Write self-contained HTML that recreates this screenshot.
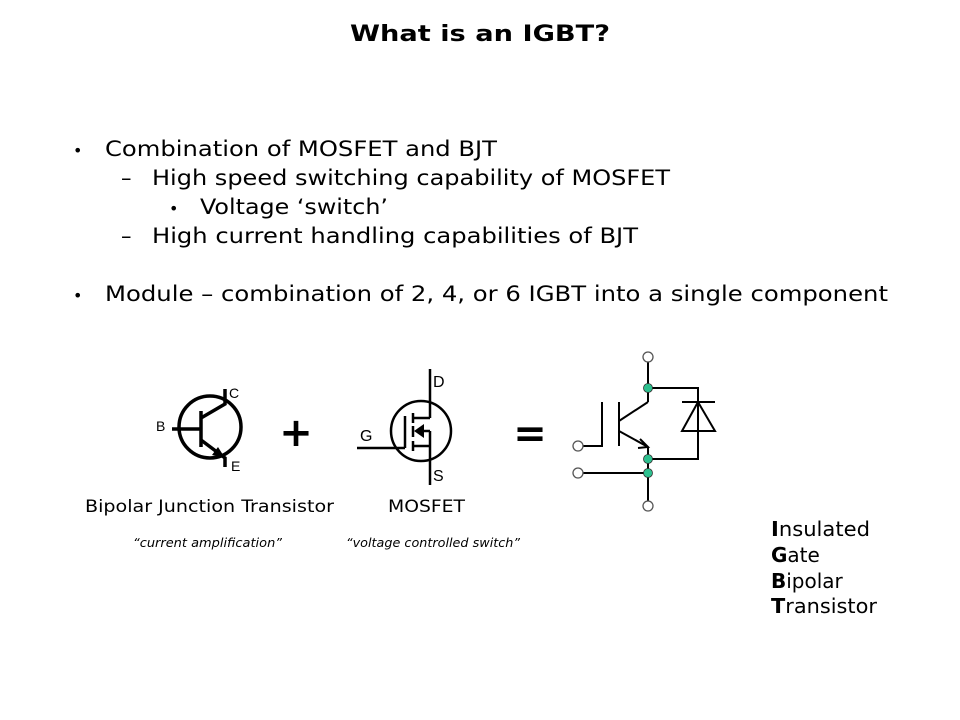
<!DOCTYPE html>
<html><head><meta charset="utf-8"><style>
html,body{margin:0;padding:0;background:#fff;}
svg{display:block;}
text{font-family:"DejaVu Sans","Liberation Sans",sans-serif;fill:#000;}
</style></head><body>
<svg width="960" height="720" viewBox="0 0 960 720" xmlns="http://www.w3.org/2000/svg">
<text x="480" y="41" text-anchor="middle" font-weight="bold" font-size="22" textLength="260" lengthAdjust="spacingAndGlyphs">What is an IGBT?</text>
<g font-size="21">
<text x="73" y="156" font-size="16">•</text>
<text x="105" y="156" textLength="392" lengthAdjust="spacingAndGlyphs">Combination of MOSFET and BJT</text>
<text x="121" y="185">–</text>
<text x="152" y="185" textLength="518" lengthAdjust="spacingAndGlyphs">High speed switching capability of MOSFET</text>
<text x="169" y="214" font-size="16">•</text>
<text x="200" y="214" textLength="188" lengthAdjust="spacingAndGlyphs">Voltage ‘switch’</text>
<text x="121" y="243">–</text>
<text x="152" y="243" textLength="486" lengthAdjust="spacingAndGlyphs">High current handling capabilities of BJT</text>
<text x="73" y="301" font-size="16">•</text>
<text x="105" y="301" textLength="783" lengthAdjust="spacingAndGlyphs">Module – combination of 2, 4, or 6 IGBT into a single component</text>
</g>
<!-- BJT -->
<g stroke="#000" stroke-width="3.5" fill="none">
<circle cx="210" cy="427" r="31"/>
<line x1="172" y1="429" x2="201" y2="429"/>
<line x1="201" y1="411" x2="201" y2="447"/>
<polyline points="201,418 225,404 225,389"/>
<polyline points="201,440 225,458 225,467"/>
</g>
<polygon points="225,458 212,455 218,447" fill="#000"/>
<g font-size="14" fill="#333">
<text x="229" y="398" style="font-family:'Liberation Sans',sans-serif">C</text>
<text x="156" y="431" style="font-family:'Liberation Sans',sans-serif">B</text>
<text x="231" y="471" style="font-family:'Liberation Sans',sans-serif">E</text>
</g>
<text x="296" y="446" text-anchor="middle" font-weight="bold" font-size="40">+</text>
<!-- MOSFET -->
<g stroke="#000" stroke-width="2.5" fill="none">
<circle cx="421" cy="431" r="30"/>
<line x1="430" y1="369" x2="430" y2="418"/>
<line x1="413" y1="418" x2="430" y2="418"/>
<line x1="430" y1="431" x2="430" y2="446"/>
<line x1="418" y1="431" x2="430" y2="431"/>
<line x1="413" y1="446" x2="430" y2="446"/>
<line x1="430" y1="446" x2="430" y2="485"/>
<line x1="413" y1="413" x2="413" y2="423"/>
<line x1="413" y1="426" x2="413" y2="437"/>
<line x1="413" y1="441" x2="413" y2="451"/>
<line x1="405" y1="416" x2="405" y2="448"/>
<line x1="357" y1="448" x2="405" y2="448"/>
</g>
<polygon points="414,431 424,424 424,438" fill="#000"/>
<g font-size="16">
<text x="433" y="387" style="font-family:'Liberation Sans',sans-serif">D</text>
<text x="360" y="441" style="font-family:'Liberation Sans',sans-serif">G</text>
<text x="433" y="481" style="font-family:'Liberation Sans',sans-serif">S</text>
</g>
<text x="530" y="447" text-anchor="middle" font-weight="bold" font-size="40">=</text>
<!-- IGBT -->
<g stroke="#000" stroke-width="2" fill="none">
<line x1="648" y1="362" x2="648" y2="402"/>
<polyline points="648,388 698,388 698,459 648,459"/>
<line x1="682" y1="402" x2="715" y2="402"/>
<polygon points="698,402 682,431 715,431"/>
<line x1="648" y1="402" x2="619" y2="421"/>
<line x1="619" y1="402" x2="619" y2="446"/>
<polyline points="583,446 602,446 602,402"/>
<line x1="619" y1="431" x2="648" y2="447"/>
<polyline points="640,439 648,447 638,448"/>
<line x1="648" y1="447" x2="648" y2="502"/>
<line x1="583" y1="473" x2="648" y2="473"/>
</g>
<g stroke="#555" stroke-width="1.3" fill="#fff">
<circle cx="648" cy="357" r="5"/>
<circle cx="578" cy="446" r="5"/>
<circle cx="578" cy="473" r="5"/>
<circle cx="648" cy="506" r="5"/>
</g>
<g fill="#2ec08f" stroke="#333" stroke-width="0.8">
<circle cx="648" cy="388" r="4.5"/>
<circle cx="648" cy="459" r="4.5"/>
<circle cx="648" cy="473" r="4.5"/>
</g>
<text x="85" y="512" font-size="17" textLength="249" lengthAdjust="spacingAndGlyphs">Bipolar Junction Transistor</text>
<text x="388" y="512" font-size="17" textLength="77" lengthAdjust="spacingAndGlyphs">MOSFET</text>
<text x="133" y="547" font-size="12" font-style="italic" textLength="149" lengthAdjust="spacingAndGlyphs">“current amplification”</text>
<text x="346" y="547" font-size="12" font-style="italic" textLength="174" lengthAdjust="spacingAndGlyphs">“voltage controlled switch”</text>
<g font-size="20">
<text x="771" y="536" textLength="99" lengthAdjust="spacingAndGlyphs"><tspan font-weight="bold">I</tspan>nsulated</text>
<text x="771" y="562"><tspan font-weight="bold">G</tspan>ate</text>
<text x="771" y="588"><tspan font-weight="bold">B</tspan>ipolar</text>
<text x="771" y="613" textLength="106" lengthAdjust="spacingAndGlyphs"><tspan font-weight="bold">T</tspan>ransistor</text>
</g>
</svg>
</body></html>
